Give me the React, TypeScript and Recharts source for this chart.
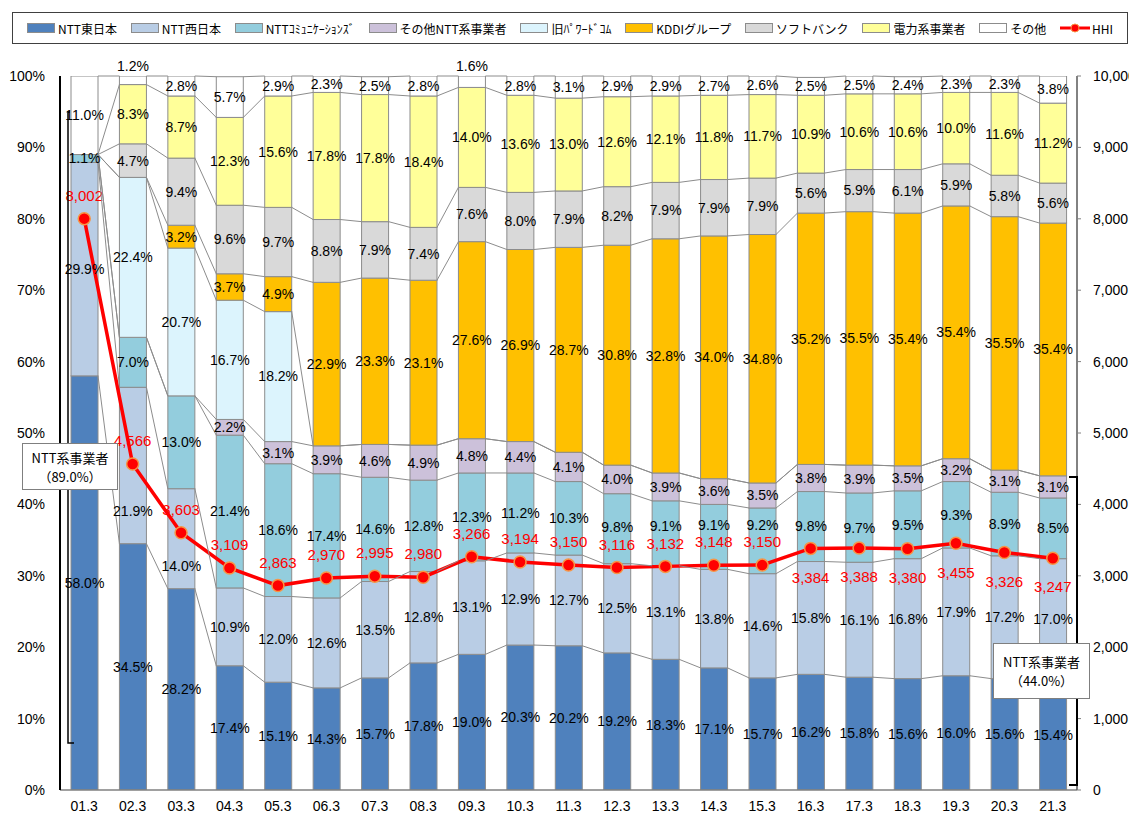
import React from "react";
import { ComposedChart, Bar, Line, XAxis, YAxis, LabelList } from "recharts";

const YEARS = [
  "01.3", "02.3", "03.3", "04.3", "05.3", "06.3", "07.3", "08.3", "09.3", "10.3", "11.3",
  "12.3", "13.3", "14.3", "15.3", "16.3", "17.3", "18.3", "19.3", "20.3", "21.3",
];

// shares in %, bottom of the stack first
const NTT_EAST = [58.0, 34.5, 28.2, 17.4, 15.1, 14.3, 15.7, 17.8, 19.0, 20.3, 20.2, 19.2, 18.3, 17.1, 15.7, 16.2, 15.8, 15.6, 16.0, 15.6, 15.4];
const NTT_WEST = [29.9, 21.9, 14.0, 10.9, 12.0, 12.6, 13.5, 12.8, 13.1, 12.9, 12.7, 12.5, 13.1, 13.8, 14.6, 15.8, 16.1, 16.8, 17.9, 17.2, 17.0];
const NTT_COM = [1.1, 7.0, 13.0, 21.4, 18.6, 17.4, 14.6, 12.8, 12.3, 11.2, 10.3, 9.8, 9.1, 9.1, 9.2, 9.8, 9.7, 9.5, 9.3, 8.9, 8.5];
const NTT_OTHER = [0, 0, 0, 2.2, 3.1, 3.9, 4.6, 4.9, 4.8, 4.4, 4.1, 4.0, 3.9, 3.6, 3.5, 3.8, 3.9, 3.5, 3.2, 3.1, 3.1];
const POWEREDCOM = [0, 22.4, 20.7, 16.7, 18.2, 0, 0, 0, 0, 0, 0, 0, 0, 0, 0, 0, 0, 0, 0, 0, 0];
const KDDI = [0, 0, 3.2, 3.7, 4.9, 22.9, 23.3, 23.1, 27.6, 26.9, 28.7, 30.8, 32.8, 34.0, 34.8, 35.2, 35.5, 35.4, 35.4, 35.5, 35.4];
const SOFTBANK = [0, 4.7, 9.4, 9.6, 9.7, 8.8, 7.9, 7.4, 7.6, 8.0, 7.9, 8.2, 7.9, 7.9, 7.9, 5.6, 5.9, 6.1, 5.9, 5.8, 5.6];
const DENRYOKU = [0, 8.3, 8.7, 12.3, 15.6, 17.8, 17.8, 18.4, 14.0, 13.6, 13.0, 12.6, 12.1, 11.8, 11.7, 10.9, 10.6, 10.6, 10.0, 11.6, 11.2];
const OTHERS = [11.0, 1.2, 2.8, 5.7, 2.9, 2.3, 2.5, 2.8, 1.6, 2.8, 3.1, 2.9, 2.9, 2.7, 2.6, 2.5, 2.5, 2.4, 2.3, 2.3, 3.8];

const HHI = [8002, 4566, 3603, 3109, 2863, 2970, 2995, 2980, 3266, 3194, 3150, 3116, 3132, 3148, 3150, 3384, 3388, 3380, 3455, 3326, 3247];

const PCT_TICKS = [0, 10, 20, 30, 40, 50, 60, 70, 80, 90, 100];
const HHI_TICKS = [0, 1000, 2000, 3000, 4000, 5000, 6000, 7000, 8000, 9000, 10000];

const SERIES = [
  { key: "east", name: "NTT東日本", color: "#4F81BD", values: NTT_EAST },
  { key: "west", name: "NTT西日本", color: "#B9CDE5", values: NTT_WEST },
  { key: "com", name: "NTTｺﾐｭﾆｹｰｼｮﾝｽﾞ", color: "#93CDDD", values: NTT_COM },
  { key: "nttOther", name: "その他NTT系事業者", color: "#CCC1DA", values: NTT_OTHER },
  { key: "pcom", name: "旧ﾊﾟﾜｰﾄﾞｺﾑ", color: "#DCF4FD", values: POWEREDCOM },
  { key: "kddi", name: "KDDIグループ", color: "#FFC000", values: KDDI },
  { key: "sb", name: "ソフトバンク", color: "#D9D9D9", values: SOFTBANK },
  { key: "denryoku", name: "電力系事業者", color: "#FFFF99", values: DENRYOKU },
  { key: "others", name: "その他", color: "#FFFFFF", values: OTHERS },
];

const data = YEARS.map((year, i) => {
  const row: Record<string, any> = { year, hhi: HHI[i] };
  SERIES.forEach((s) => (row[s.key] = s.values[i]));
  return row;
});

const CHART_W = 1129;
const CHART_H = 814;
const MARGIN = { top: 68, right: 0, bottom: 2, left: 0 };
const X_AXIS_H = 30;
const LEFT_W = 52;
const RIGHT_W = 60;
const PLOT_W = CHART_W - LEFT_W - RIGHT_W;
const PLOT_H = CHART_H - MARGIN.top - MARGIN.bottom - X_AXIS_H;
const BAND = PLOT_W / YEARS.length;
const HHI_LABEL_BELOW_FROM = 15; // from 16.3 on the HHI value sits under the dot
const NUM_FONT = "'Liberation Sans', Arial, sans-serif";
const JP_FONT = "'Noto Sans CJK JP', 'Noto Sans', sans-serif";
const EDGE = "#8C8C8C";

// same mappings as the two y axes
const pctToPx = (c: number) => MARGIN.top + PLOT_H * (1 - c / 100);
const hhiToPx = (v: number) => MARGIN.top + PLOT_H * (1 - v / 10000);
const hhiLabelOffset = (i: number) => (i >= HHI_LABEL_BELOW_FROM ? 29 : -23);

const cumulative = (idx: number) => {
  let c = 0;
  return SERIES.map((s) => (c += s.values[idx]));
};

const Segment = (props: any) => {
  const { x, y, width, height, fill } = props;
  if (!height || height < 0.3) return <g />;
  return <rect x={x} y={y} width={width} height={height} fill={fill} stroke={EDGE} strokeWidth={1} />;
};

// drawn from the top bar: series lines between bars + every segment's label
const StackLabels = (props: any) => {
  const vb = props.viewBox ?? props;
  const i: number = props.index;
  if (i == null || vb == null) return null;
  const { x, width } = vb;
  const top = SERIES.length - 1;
  const cA = cumulative(i);
  const dotY = hhiToPx(HHI[i]);
  const hhiLabelY = dotY + hhiLabelOffset(i);
  const slope = i < YEARS.length - 1 ? (hhiToPx(HHI[i + 1]) - dotY) / BAND : 0;
  const lines: React.ReactNode[] = [];
  if (i < YEARS.length - 1) {
    const cB = cumulative(i + 1);
    SERIES.forEach((s, k) => {
      lines.push(
        <line
          key={`l${k}`}
          x1={x + width}
          y1={pctToPx(Math.min(cA[k], 100))}
          x2={x + BAND}
          y2={pctToPx(Math.min(cB[k], 100))}
          stroke={EDGE}
          strokeWidth={1}
        />
      );
    });
  }
  const texts: React.ReactNode[] = [];
  SERIES.forEach((s, k) => {
    const v = s.values[i];
    if (!v) return;
    let cy = (pctToPx(cA[k] - v) + pctToPx(Math.min(cA[k], 100))) / 2;
    if (k === top && v < 2) cy = pctToPx(100) - 10;
    else if (Math.abs(cy - hhiLabelY) < 16) cy = hhiLabelY < dotY ? hhiLabelY - 17 : hhiLabelY + 17;
    else if (Math.abs(cy - dotY) < 12) cy = dotY + 20 + Math.max(0, slope * 19);
    texts.push(
      <text key={`t${k}`} x={x + width / 2} y={cy} dy="0.35em" textAnchor="middle" fontSize={14} fontFamily={NUM_FONT} fill="#000">
        {v.toFixed(1)}%
      </text>
    );
  });
  return (
    <g>
      {lines}
      {texts}
    </g>
  );
};

const HhiDot = (props: any) => {
  const { cx, cy, index } = props;
  return (
    <g key={`hhi-${index}`}>
      <circle cx={cx} cy={cy} r={6} fill="#FF0000" stroke="#F79646" strokeWidth={1.5} />
      <text x={cx} y={cy + hhiLabelOffset(index)} dy="0.35em" textAnchor="middle" fontSize={15} fontFamily={NUM_FONT} fill="#FF0000">
        {HHI[index].toLocaleString("en-US")}
      </text>
    </g>
  );
};

function Legend() {
  return (
    <div
      style={{
        position: "absolute",
        left: 4,
        top: 4,
        width: 1116,
        height: 32,
        border: "1px solid #404040",
        background: "#fff",
        display: "flex",
        alignItems: "center",
        justifyContent: "space-between",
        padding: "0 14px",
        boxSizing: "border-box",
        fontFamily: JP_FONT,
        fontSize: 12,
        color: "#000",
        zIndex: 2,
      }}
    >
      {SERIES.map((s) => (
        <div key={s.key} style={{ display: "flex", alignItems: "center", gap: 3 }}>
          <span style={{ width: 26, height: 8, background: s.color, border: `1px solid ${EDGE}` }} />
          <span>{s.name}</span>
        </div>
      ))}
      <div style={{ display: "flex", alignItems: "center", gap: 2 }}>
        <svg width={30} height={12}>
          <line x1={0} y1={6} x2={30} y2={6} stroke="#FF0000" strokeWidth={3} />
          <circle cx={15} cy={6} r={4} fill="#FF0000" stroke="#F79646" />
        </svg>
        <span>HHI</span>
      </div>
    </div>
  );
}

const boxStyle: React.CSSProperties = {
  position: "absolute",
  background: "#fff",
  border: "1px solid #7f7f7f",
  fontFamily: JP_FONT,
  fontSize: 13,
  textAlign: "center",
  lineHeight: "19px",
  display: "flex",
  flexDirection: "column",
  justifyContent: "center",
  boxSizing: "border-box",
  zIndex: 3,
};

export default function App() {
  return (
    <div style={{ position: "relative", width: CHART_W, height: CHART_H }}>
      <Legend />
      <ComposedChart width={CHART_W} height={CHART_H} data={data} margin={MARGIN}>
        <XAxis
          dataKey="year"
          height={X_AXIS_H}
          tickLine={false}
          tickMargin={5}
          axisLine={{ stroke: "#808080", strokeWidth: 1.5 }}
          tick={{ fontSize: 14, fontFamily: NUM_FONT, fill: "#000" }}
        />
        <YAxis
          yAxisId="pct"
          width={LEFT_W}
          domain={[0, 100]}
          allowDataOverflow
          ticks={PCT_TICKS}
          tickFormatter={(v: number) => `${v}%`}
          tickLine={false}
          tickMargin={9}
          axisLine={{ stroke: "#000", strokeWidth: 2 }}
          tick={{ fontSize: 14, fontFamily: NUM_FONT, fill: "#000" }}
        />
        <YAxis
          yAxisId="hhi"
          orientation="right"
          width={RIGHT_W}
          domain={[0, 10000]}
          ticks={HHI_TICKS}
          tickFormatter={(v: number) => v.toLocaleString("en-US")}
          tickSize={4}
          tickMargin={12}
          tickLine={{ stroke: "#808080" }}
          axisLine={{ stroke: "#595959", strokeWidth: 1.5 }}
          tick={{ fontSize: 14, fontFamily: NUM_FONT, fill: "#000" }}
        />
        {SERIES.map((s, k) => (
          <Bar
            key={s.key}
            yAxisId="pct"
            dataKey={s.key}
            name={s.name}
            stackId="share"
            fill={s.color}
            barSize={27}
            shape={Segment}
            isAnimationActive={false}
          >
            {k === SERIES.length - 1 && <LabelList dataKey={s.key} content={StackLabels} />}
          </Bar>
        ))}
        <Line
          yAxisId="hhi"
          dataKey="hhi"
          name="HHI"
          stroke="#FF0000"
          strokeWidth={3.5}
          dot={HhiDot}
          activeDot={false}
          isAnimationActive={false}
        />
      </ComposedChart>
      <svg
        width={CHART_W}
        height={CHART_H}
        style={{ position: "absolute", left: 0, top: 0, pointerEvents: "none", zIndex: 1 }}
      >
        <polyline points="62,104 60,104 60,735 66,735" fill="none" stroke="#000" strokeWidth={1.5} />
        <polyline points="1061,469 1069,469 1069,777 1061,777" fill="none" stroke="#000" strokeWidth={2} />
      </svg>
      <div style={{ ...boxStyle, left: 14, top: 435, width: 96, height: 47 }}>
        <span>NTT系事業者</span>
        <span>（89.0%）</span>
      </div>
      <div style={{ ...boxStyle, left: 985, top: 635, width: 97, height: 56 }}>
        <span>NTT系事業者</span>
        <span>（44.0%）</span>
      </div>
    </div>
  );
}
